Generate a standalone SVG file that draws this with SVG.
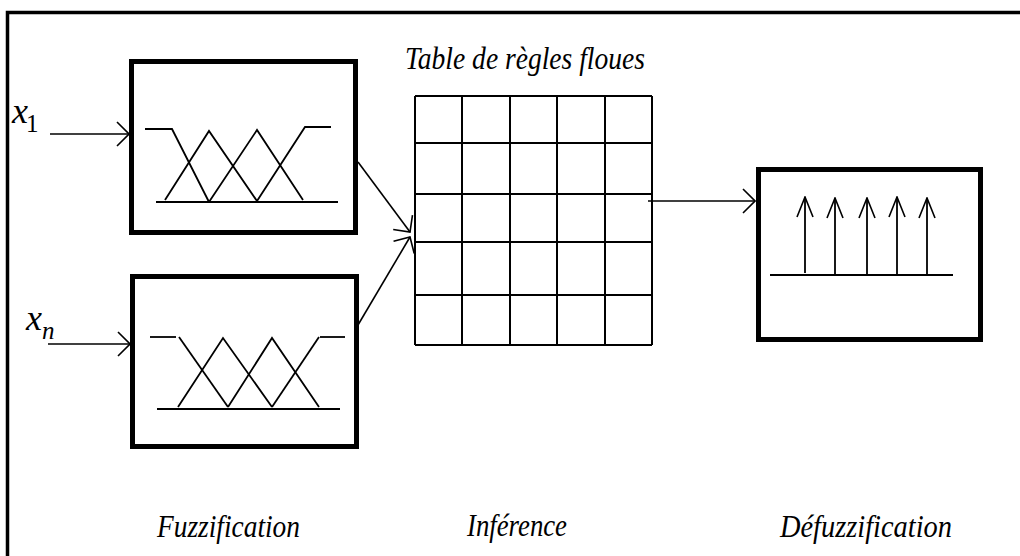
<svg xmlns="http://www.w3.org/2000/svg" width="1020" height="556" viewBox="0 0 1020 556">
  <style>
    .frame { fill: none; stroke: #000; stroke-width: 3.5; }
    .box { fill: #fff; stroke: #000; stroke-width: 5; }
    .thin { fill: none; stroke: #000; stroke-width: 1.8; }
    .grid { fill: none; stroke: #000; stroke-width: 2; }
    .conn { fill: none; stroke: #000; stroke-width: 1.6; }
    .lbl { font-family: "Liberation Serif", "Times New Roman", serif; font-style: italic; fill: #000; }
    .var { font-family: "Liberation Serif", "Times New Roman", serif; fill: #000; }
  </style>
  <defs>
    <marker id="open" viewBox="0 0 14 26" refX="13" refY="13" markerWidth="14" markerHeight="26" markerUnits="userSpaceOnUse" orient="auto">
      <path d="M1,1 L13,13 L1,25" fill="none" stroke="#000" stroke-width="1.6"/>
    </marker>
    <marker id="spike" viewBox="0 0 22 18" refX="21" refY="9" markerWidth="22" markerHeight="18" markerUnits="userSpaceOnUse" orient="auto">
      <path d="M1,1 L21,9 L1,17" fill="none" stroke="#000" stroke-width="1.6"/>
    </marker>
  </defs>

  <rect width="1020" height="556" fill="#fff"/>

  <!-- outer frame: top and left edges -->
  <path class="frame" d="M7.5,556 L7.5,12.5 L1020,12.5"/>

  <!-- input labels -->
  <g id="label-x1">
    <text class="var" x="12" y="123" font-size="36" font-style="italic">x</text>
    <text class="var" x="26" y="132" font-size="25">1</text>
  </g>
  <g id="label-xn">
    <text class="var" x="26" y="330" font-size="36" font-style="italic">x</text>
    <text class="var" x="42" y="339" font-size="25" font-style="italic">n</text>
  </g>

  <!-- fuzzification block for x1 -->
  <g id="fuzz-1">
    <rect class="box" x="131.5" y="61.5" width="224" height="171"/>
    <path d="M129,59 H358" stroke="#000" stroke-width="3" transform="translate(0,2)"/>
    <path class="thin" d="M145,129 L172,129 L209,202"/>
    <path class="thin" d="M165,200 L209,131 L257,201"/>
    <path class="thin" d="M209,202 L257,130 L303,200"/>
    <path class="thin" d="M257,201 L305,127 L331,127"/>
    <path class="thin" d="M156,202 L338,202"/>
  </g>

  <!-- fuzzification block for xn -->
  <g id="fuzz-n">
    <rect class="box" x="132.5" y="276.5" width="224" height="170"/>
    <path class="thin" d="M150,337 L176,337"/>
    <path class="thin" d="M179,337 L228,407"/>
    <path class="thin" d="M178,407 L223,338 L272,407"/>
    <path class="thin" d="M228,407 L272,338 L319,407"/>
    <path class="thin" d="M272,407 L319,337"/>
    <path class="thin" d="M320,337 L345,337"/>
    <path class="thin" d="M157,409 L340,409"/>
  </g>

  <!-- rule table -->
  <g id="rule-table">
    <text class="lbl" x="405" y="69" font-size="31" textLength="240" lengthAdjust="spacingAndGlyphs">Table de règles floues</text>
    <path class="grid" d="M415,96 V345 M462,96 V345 M510,96 V345 M557,96 V345 M605,96 V345 M652,96 V345"/>
    <path class="grid" d="M415,96 H652 M415,143 H652 M415,194 H652 M415,242 H652 M415,295 H652 M415,345 H652"/>
  </g>

  <!-- defuzzification block -->
  <g id="defuzz">
    <rect class="box" x="758.5" y="169.5" width="222" height="170"/>
    <path class="thin" d="M770,275 L953,275"/>
    <path class="thin" marker-end="url(#spike)" d="M805,273 L805,197"/>
    <path class="thin" marker-end="url(#spike)" d="M835,275 L835,198"/>
    <path class="thin" marker-end="url(#spike)" d="M867,275 L867,198"/>
    <path class="thin" marker-end="url(#spike)" d="M897,275 L897,197"/>
    <path class="thin" marker-end="url(#spike)" d="M927,275 L927,198"/>
  </g>

  <!-- connectors -->
  <g id="connectors">
    <path class="conn" marker-end="url(#open)" d="M50,134 L129,134"/>
    <path class="conn" marker-end="url(#open)" d="M48,344 L130,344"/>
    <path class="conn" marker-end="url(#open)" d="M358,162 L410,232"/>
    <path class="conn" marker-end="url(#open)" d="M358,325 L410,237"/>
    <path class="conn" marker-end="url(#open)" d="M648,201 L755,201"/>
  </g>

  <!-- stage captions -->
  <g id="captions">
    <text class="lbl" x="157" y="537" font-size="31" textLength="143" lengthAdjust="spacingAndGlyphs">Fuzzification</text>
    <text class="lbl" x="467" y="536" font-size="31" textLength="100" lengthAdjust="spacingAndGlyphs">Inférence</text>
    <text class="lbl" x="780" y="537" font-size="31" textLength="172" lengthAdjust="spacingAndGlyphs">Défuzzification</text>
  </g>
</svg>
